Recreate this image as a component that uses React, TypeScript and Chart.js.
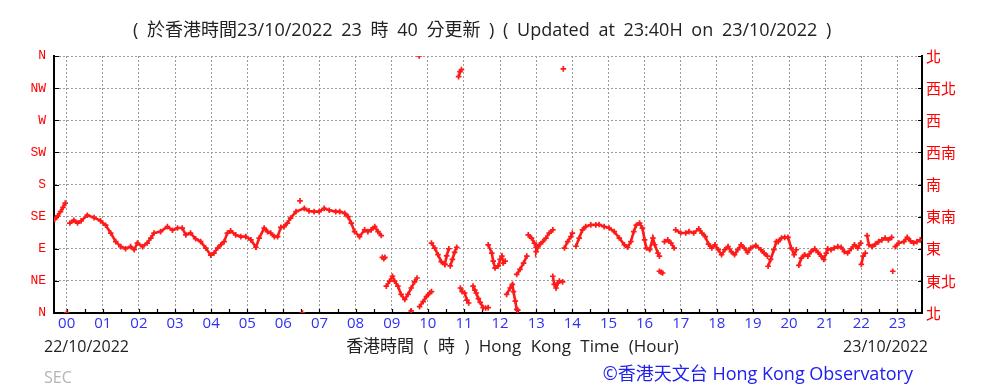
import React, { useEffect, useRef } from "react";
import { Chart, registerables } from "chart.js";

Chart.register(...registerables);

// ---- axes ----
const hourTicks = [0, 1, 2, 3, 4, 5, 6, 7, 8, 9, 10, 11, 12, 13, 14, 15, 16, 17, 18, 19, 20, 21, 22, 23];
const hourLabels = ["00", "01", "02", "03", "04", "05", "06", "07", "08", "09", "10", "11", "12", "13", "14", "15", "16", "17", "18", "19", "20", "21", "22", "23"];
const dirTicks = [0, 45, 90, 135, 180, 225, 270, 315, 360];
const dirLabelsEn = ["N", "NE", "E", "SE", "S", "SW", "W", "NW", "N"];
const dirLabelsZh = ["北", "東北", "東", "東南", "南", "西南", "西", "西北", "北"];
const xMin = -0.35;
const xMax = 23.68;

// ---- wind direction (hour, degrees) ----
const segLate22 = [[-0.33, 131], [-0.25, 136], [-0.17, 142], [-0.1, 148], [-0.04, 154]];
const segNight = [
  [0.09, 126], [0.2, 130], [0.3, 126], [0.4, 129], [0.57, 137], [0.76, 133.6], [0.94, 129], [1.08, 123],
  [1.22, 112], [1.36, 100], [1.5, 93], [1.63, 90], [1.77, 93], [1.87, 88.6], [1.96, 98], [2.1, 93],
  [2.23, 98], [2.33, 105], [2.42, 112], [2.6, 114], [2.79, 121], [2.93, 116], [3.07, 119], [3.2, 119],
  [3.3, 109.5], [3.43, 112], [3.57, 104], [3.71, 100], [3.85, 91], [3.99, 81], [4.08, 84], [4.18, 91],
  [4.27, 95.6], [4.36, 100], [4.45, 112], [4.54, 115], [4.68, 109.5], [4.82, 107], [4.96, 107], [5.1, 102.5],
  [5.24, 92], [5.33, 105], [5.47, 119], [5.56, 114], [5.65, 112], [5.75, 107], [5.84, 107], [5.93, 120],
  [6.02, 121], [6.11, 126], [6.2, 133], [6.35, 142], [6.58, 146.6], [6.71, 143], [6.85, 142], [6.99, 142],
  [7.13, 146.6], [7.27, 144], [7.45, 142], [7.56, 142], [7.7, 139.6], [7.79, 135], [7.88, 126], [7.97, 114],
  [8.11, 107], [8.25, 116.5], [8.34, 114], [8.43, 116.5], [8.53, 121], [8.62, 114], [8.71, 108.5],
];
const seg0845 = [[8.74, 78], [8.78, 76], [8.81, 78]];
const seg09 = [
  [8.85, 37.6], [8.94, 44.6], [9.02, 51.5], [9.08, 44.6], [9.17, 37.6], [9.26, 26], [9.36, 19],
  [9.45, 26], [9.54, 35], [9.63, 43.6], [9.7, 49],
];
const seg0945 = [[9.77, 9], [9.87, 16], [9.96, 23], [10.05, 28], [10.1, 30]];
const seg10a = [[10.1, 98], [10.19, 91], [10.28, 81.7], [10.37, 72], [10.47, 68]];
const seg10b = [[10.47, 68], [10.52, 80], [10.58, 90]];
const seg10c = [[10.62, 66], [10.68, 75], [10.74, 85], [10.8, 92]];
const seg11a = [[10.9, 35], [10.95, 30], [11.02, 28], [11.08, 18], [11.13, 14]];
const seg11b = [[11.25, 37.6], [11.3, 32], [11.34, 28], [11.4, 20], [11.45, 15], [11.53, 7.5], [11.6, 7], [11.67, 7.5]];
const seg11top = [[10.85, 331], [10.89, 338], [10.93, 341]];
const seg12a = [[11.67, 95.5], [11.77, 84], [11.81, 72.6], [11.86, 63], [11.95, 66], [12.0, 75], [12.05, 79.7], [12.09, 70], [12.14, 72.6]];
const seg12b = [[12.18, 26], [12.28, 35], [12.34, 40], [12.37, 30], [12.42, 16.7], [12.46, 5]];
const seg12c = [[12.46, 54], [12.55, 61], [12.65, 70], [12.74, 79.7]];
const seg13 = [[12.78, 109.5], [12.87, 105], [12.95, 98], [13.0, 92], [13.0, 86], [13.05, 93], [13.09, 95.6], [13.18, 100], [13.27, 105], [13.36, 112], [13.46, 116.5]];
const seg1330 = [[13.46, 51.5], [13.5, 40], [13.55, 35], [13.6, 42], [13.64, 44.6], [13.73, 43.6]];
const seg14a = [[13.78, 91], [13.87, 100], [13.96, 107], [14.0, 112]];
const segAfternoon = [
  [14.1, 93.5], [14.19, 105], [14.28, 116.5], [14.37, 121], [14.51, 123.5], [14.65, 123.5], [14.74, 124],
  [14.88, 121], [15.02, 119], [15.16, 114], [15.3, 105], [15.44, 95.6], [15.53, 92], [15.62, 100], [15.7, 114],
  [15.77, 123], [15.86, 126], [15.94, 119], [16.0, 102.5], [16.05, 91], [16.14, 88.6], [16.23, 105],
  [16.28, 95.6], [16.37, 84], [16.41, 79.7],
];
const seg1630 = [[16.41, 58.5], [16.46, 57], [16.5, 56]];
const seg1640 = [[16.55, 100], [16.64, 102.5], [16.73, 98], [16.82, 91]];
const segEvening = [
  [16.86, 116.5], [17.0, 112], [17.14, 112], [17.23, 114], [17.36, 112], [17.5, 118], [17.59, 112], [17.68, 107],
  [17.77, 96.5], [17.86, 91], [17.95, 95.6], [18.04, 88.6], [18.13, 81.7], [18.22, 88.6], [18.31, 93], [18.4, 86],
  [18.49, 81.7], [18.58, 88.6], [18.67, 95.6], [18.76, 91], [18.85, 85], [18.94, 91], [19.08, 94.6], [19.22, 88.6],
  [19.31, 84], [19.4, 79.7],
];
const seg1930 = [[19.42, 65.5], [19.49, 75], [19.58, 88.6], [19.65, 100], [19.7, 100], [19.79, 105], [19.88, 106], [19.97, 106], [20.06, 91], [20.14, 81.7], [20.2, 88.6]];
const seg2015 = [
  [20.27, 66.8], [20.34, 77], [20.43, 81.7], [20.52, 79.7], [20.61, 86], [20.71, 90], [20.8, 85], [20.89, 79.7],
  [20.96, 75], [21.03, 84], [21.07, 90], [21.16, 88.6], [21.25, 91], [21.35, 93], [21.44, 92], [21.53, 86],
  [21.62, 84], [21.72, 90], [21.81, 95.6], [21.9, 91], [21.98, 98],
];
const seg22a = [[22.0, 68], [22.05, 79.7], [22.11, 84]];
const seg22b = [[22.16, 108.5], [22.21, 95.6], [22.3, 93], [22.39, 96.5], [22.48, 100], [22.57, 102.5], [22.66, 105], [22.75, 102.5], [22.84, 106]];
const seg23 = [[22.94, 93], [23.04, 98], [23.18, 100], [23.27, 106], [23.36, 101], [23.45, 98], [23.54, 100], [23.63, 102.5]];
const singlePoints = [[0.0, 0], [6.46, 157], [6.53, 0], [9.54, 3], [9.76, 360], [12.49, 4], [13.75, 342], [22.87, 58.5]];

const segments = [
  segLate22, segNight, seg0845, seg09, seg0945, seg10a, seg10b, seg10c, seg11a, seg11b, seg11top,
  seg12a, seg12b, seg12c, seg13, seg1330, seg14a, segAfternoon, seg1630, seg1640, segEvening,
  seg1930, seg2015, seg22a, seg22b, seg23,
];

const RED = "#ff1a1a";

const innerTicks = {
  id: "innerTicks",
  beforeDatasetsDraw(chart: any) {
    const { ctx, chartArea: a, scales } = chart;
    ctx.save();
    ctx.strokeStyle = "#000";
    ctx.lineWidth = 1.2;
    ctx.beginPath();
    dirTicks.forEach((v) => {
      const y = Math.round(scales.y.getPixelForValue(v)) + 0.5;
      ctx.moveTo(a.left, y);
      ctx.lineTo(a.left + 5, y);
      ctx.moveTo(a.right - 4, y);
      ctx.lineTo(a.right, y);
    });
    hourTicks.forEach((h) => {
      [h, h + 0.5].forEach((v) => {
        if (v > xMax) return;
        const x = Math.round(scales.x.getPixelForValue(v)) + 0.5;
        ctx.moveTo(x, a.bottom);
        ctx.lineTo(x, a.bottom - 4);
      });
    });
    ctx.stroke();
    ctx.restore();
  },
};

function WindChart() {
  const ref = useRef<HTMLCanvasElement>(null);
  useEffect(() => {
    if (!ref.current) return;
    const lineSets = segments.map((seg) => ({
      data: seg.map(([x, y]) => ({ x, y })),
      showLine: true,
      borderColor: RED,
      backgroundColor: RED,
      borderWidth: 2.6,
      pointStyle: "cross",
      pointRadius: 2.8,
      pointBorderWidth: 1.7,
      pointBorderColor: RED,
      yAxisID: "y",
    }));
    const dotSet = {
      data: singlePoints.map(([x, y]) => ({ x, y })),
      showLine: false,
      borderColor: RED,
      backgroundColor: RED,
      pointStyle: "cross",
      pointRadius: 2.8,
      pointBorderWidth: 1.7,
      pointBorderColor: RED,
      yAxisID: "y",
    };
    const chart = new Chart(ref.current, {
      type: "scatter",
      data: { datasets: [...lineSets, dotSet] as any },
      options: {
        animation: false,
        responsive: false,
        devicePixelRatio: 1,
        layout: { padding: { top: 56, left: 0, right: 0, bottom: 0 } },
        plugins: { legend: { display: false }, tooltip: { enabled: false }, title: { display: false } },
        scales: {
          x: {
            type: "linear",
            position: "bottom",
            min: xMin,
            max: xMax,
            afterBuildTicks: (s: any) => {
              s.ticks = hourTicks.map((v) => ({ value: v }));
            },
            afterFit: (s: any) => {
              s.height = 75;
            },
            ticks: {
              autoSkip: false,
              maxRotation: 0,
              padding: 2,
              color: "#2f2ff5",
              font: { family: "'Open Sans', sans-serif", size: 15 },
              callback: (v: any) => hourLabels[hourTicks.indexOf(Number(v))] ?? "",
            },
            grid: { color: "#9a9a9a", lineWidth: 1, drawTicks: false },
            border: { display: true, color: "#000", width: 2, dash: [2, 2] },
          },
          y: {
            type: "linear",
            position: "left",
            min: 0,
            max: 360,
            afterBuildTicks: (s: any) => {
              s.ticks = dirTicks.map((v) => ({ value: v }));
            },
            afterFit: (s: any) => {
              s.width = 54;
            },
            ticks: {
              padding: 8,
              color: "#ff0000",
              font: { family: "'Liberation Mono', monospace", size: 13 },
              callback: (v: any) => dirLabelsEn[dirTicks.indexOf(Number(v))] ?? "",
            },
            grid: { color: "#9a9a9a", lineWidth: 1, drawTicks: false },
            border: { display: true, color: "#000", width: 2, dash: [2, 2] },
          },
          y2: {
            type: "linear",
            position: "right",
            min: 0,
            max: 360,
            afterBuildTicks: (s: any) => {
              s.ticks = dirTicks.map((v) => ({ value: v }));
            },
            afterFit: (s: any) => {
              s.width = 61;
            },
            ticks: {
              padding: 4,
              color: "#ff0000",
              font: { family: "'Noto Sans CJK TC', sans-serif", size: 15 },
              callback: (v: any) => dirLabelsZh[dirTicks.indexOf(Number(v))] ?? "",
            },
            grid: { display: false, drawTicks: false },
            border: { display: true, color: "#000", width: 2 },
          },
        },
      } as any,
      plugins: [innerTicks],
    });
    return () => chart.destroy();
  }, []);
  return <canvas ref={ref} width={983} height={388} style={{ position: "absolute", left: 0, top: 0 }} />;
}

const textBase: React.CSSProperties = {
  position: "absolute",
  whiteSpace: "pre",
  fontFamily: "'Open Sans', 'Noto Sans CJK TC', sans-serif",
  lineHeight: 1,
};

export default function App() {
  return (
    <div style={{ position: "absolute", left: 0, top: 0, width: 983, height: 388, background: "#fff", overflow: "hidden" }}>
      <WindChart />
      <div style={{ ...textBase, left: 133, top: 20, fontSize: 18, color: "#222", wordSpacing: 4 }}>
        ( 於香港時間23/10/2022 23 時 40 分更新 ) ( Updated at 23:40H on 23/10/2022 )
      </div>
      <div style={{ ...textBase, left: 44, top: 338, fontSize: 16, color: "#222" }}>22/10/2022</div>
      <div style={{ ...textBase, left: 0, width: 1025, top: 337, textAlign: "center", fontSize: 17, color: "#222", wordSpacing: 5 }}>
        香港時間 ( 時 ) Hong Kong Time (Hour)
      </div>
      <div style={{ ...textBase, right: 983 - 928, top: 338, fontSize: 16, color: "#222" }}>23/10/2022</div>
      <div style={{ ...textBase, left: 44, top: 369, fontSize: 16, color: "#b5b5b5" }}>SEC</div>
      <div style={{ ...textBase, right: 983 - 913, top: 364, fontSize: 18, color: "#2020ee" }}>©香港天文台 Hong Kong Observatory</div>
    </div>
  );
}
